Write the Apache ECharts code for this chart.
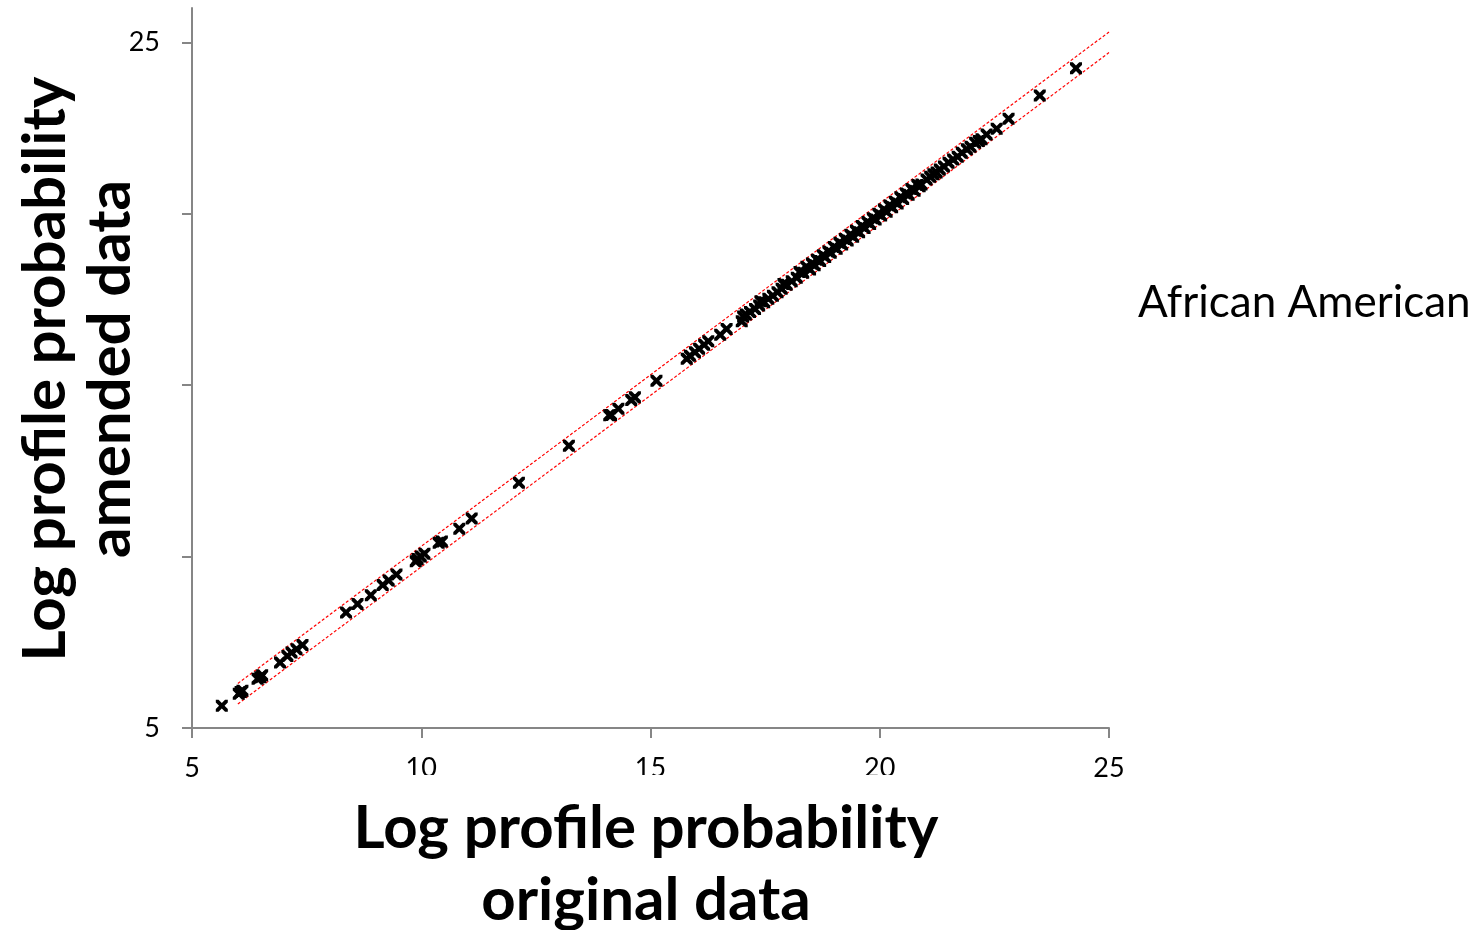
<!DOCTYPE html>
<html>
<head>
<meta charset="utf-8">
<script src="https://cdn.jsdelivr.net/npm/echarts@6/dist/echarts.min.js"></script>
<style>
  html, body { margin: 0; padding: 0; background: #fff; }
  #chart { width: 1484px; height: 930px; }
</style>
</head>
<body>
<div id="chart"></div>
<script>
// log profile probability, original data (x) vs amended data (y)
const originalData = [
  5.65, 6.02, 6.06, 6.10, 6.43, 6.49, 6.53, 6.92, 7.08, 7.17, 7.28, 7.41,
  8.36, 8.61, 8.90, 9.16, 9.29, 9.46, 9.88, 9.92, 9.99, 10.07, 10.38, 10.45,
  10.83, 11.10, 12.13, 13.22, 14.10, 14.14, 14.30, 14.58, 14.66, 15.13,
  15.79, 15.86, 15.97, 16.06, 16.17, 16.26, 16.52, 16.66,
  16.99, 17.02, 17.08, 17.17, 17.28, 17.37, 17.40, 17.48, 17.57, 17.67, 17.77,
  17.86, 17.90, 17.97, 18.08, 18.19, 18.25, 18.33, 18.40, 18.48,
  18.52, 18.58, 18.63, 18.70, 18.76, 18.81, 18.88, 18.93, 19.00, 19.06,
  19.12, 19.18, 19.24, 19.30, 19.36, 19.42, 19.48, 19.55, 19.61, 19.67,
  19.73, 19.79, 19.85, 19.91, 19.97, 20.03, 20.09, 20.15, 20.21, 20.27,
  20.33, 20.39, 20.45, 20.51, 20.57, 20.63, 20.69, 20.76, 20.82, 20.87,
  20.91, 21.02, 21.10, 21.17, 21.24, 21.31, 21.40, 21.50, 21.60, 21.70,
  21.79, 21.90, 21.98, 22.08, 22.16, 22.22, 22.33, 22.55, 22.81, 23.49, 24.28
];
const amendedData = [
  5.65, 6.00, 6.05, 6.09, 6.44, 6.48, 6.54, 6.91, 7.10, 7.20, 7.30, 7.42,
  8.37, 8.62, 8.87, 9.17, 9.30, 9.48, 9.86, 9.93, 10.00, 10.08, 10.40, 10.44,
  10.81, 11.11, 12.15, 13.23, 14.12, 14.13, 14.31, 14.57, 14.65, 15.13,
  15.77, 15.86, 15.96, 16.06, 16.18, 16.28, 16.47, 16.64,
  16.86, 17.00, 17.06, 17.13, 17.22, 17.32, 17.45, 17.42, 17.52, 17.61, 17.71,
  17.81, 17.95, 17.93, 18.03, 18.13, 18.30, 18.28, 18.45, 18.37,
  18.55, 18.50, 18.66, 18.62, 18.79, 18.74, 18.90, 18.86, 19.03, 18.98,
  19.15, 19.10, 19.26, 19.22, 19.39, 19.33, 19.50, 19.46, 19.64, 19.58,
  19.76, 19.70, 19.87, 19.83, 20.00, 19.95, 20.12, 20.06, 20.24, 20.19,
  20.35, 20.30, 20.48, 20.43, 20.59, 20.55, 20.72, 20.67, 20.84, 20.80,
  20.85, 21.00, 21.08, 21.15, 21.20, 21.29, 21.38, 21.49, 21.58, 21.66,
  21.78, 21.88, 21.95, 22.07, 22.12, 22.17, 22.31, 22.48, 22.77, 23.45, 24.24
];
// red dotted band limits
const upperLimit = [[6, 6.3], [25, 25.3]];
const lowerLimit = [[6, 5.7], [25, 24.7]];
const xTicks = [5, 10, 15, 20, 25];
const yTicks = [5, 10, 15, 20, 25];
const yLabels = [5, 25];

const points = originalData.map((x, i) => [x, amendedData[i]]);

const chart = echarts.init(document.getElementById('chart'));
const axisColor = '#868686';
// bold "x" marker with little nubs at the ends of the arms
const crossPath = 'path://M0,2.3 L0,0 L2.3,0 L5,2.7 L7.7,0 L10,0 L10,2.3 L7.3,5 L10,7.7 L10,10 L7.7,10 L5,7.3 L2.3,10 L0,10 L0,7.7 L2.7,5 Z';

chart.setOption({
  animation: false,
  backgroundColor: '#fff',
  grid: { left: 192, right: 375, top: 8, bottom: 202 },
  xAxis: {
    type: 'value',
    min: 5,
    max: 25,
    interval: 5,
    splitLine: { show: false },
    axisLine: { lineStyle: { color: axisColor, width: 2 } },
    axisTick: { show: true, length: 10, customValues: xTicks, lineStyle: { color: axisColor, width: 2 } },
    axisLabel: { customValues: xTicks, color: '#000', fontFamily: 'Lato', fontSize: 27, margin: 27 }
  },
  yAxis: {
    type: 'value',
    min: 5,
    max: 26,
    interval: 5,
    splitLine: { show: false },
    axisLine: { lineStyle: { color: axisColor, width: 2 } },
    axisTick: { show: true, length: 10, customValues: yTicks, lineStyle: { color: axisColor, width: 2 } },
    axisLabel: { customValues: yLabels, color: '#000', fontFamily: 'Lato', fontSize: 27, margin: 32 }
  },
  series: [
    {
      type: 'line',
      data: upperLimit,
      symbol: 'none',
      clip: false,
      lineStyle: { color: '#ff0000', width: 1.2, type: [3, 2] },
      z: 1
    },
    {
      type: 'line',
      data: lowerLimit,
      symbol: 'none',
      clip: false,
      lineStyle: { color: '#ff0000', width: 1.2, type: [3, 2] },
      z: 1
    },
    {
      type: 'scatter',
      data: points,
      symbol: crossPath,
      symbolSize: 12,
      itemStyle: { color: '#000', opacity: 1 },
      z: 2
    }
  ],
  graphic: [
    {
      type: 'text',
      x: 646,
      y: 775,
      z: 100,
      style: {
        text: 'Log profile probability\noriginal data',
        font: 'bold 60px Lato',
        lineHeight: 72,
        align: 'center',
        verticalAlign: 'top',
        fill: '#000',
        backgroundColor: '#fff',
        padding: [18, 12, 0, 12]
      }
    },
    {
      type: 'text',
      x: 78,
      y: 369,
      rotation: Math.PI / 2,
      z: 100,
      style: {
        text: 'Log profile probability\namended data',
        font: 'bold 60px Lato',
        lineHeight: 65,
        align: 'center',
        verticalAlign: 'middle',
        fill: '#000'
      }
    },
    {
      type: 'text',
      x: 1138,
      y: 303,
      style: {
        text: 'African American',
        font: '44px Lato',
        align: 'left',
        verticalAlign: 'middle',
        fill: '#000'
      }
    }
  ]
});
</script>
</body>
</html>
